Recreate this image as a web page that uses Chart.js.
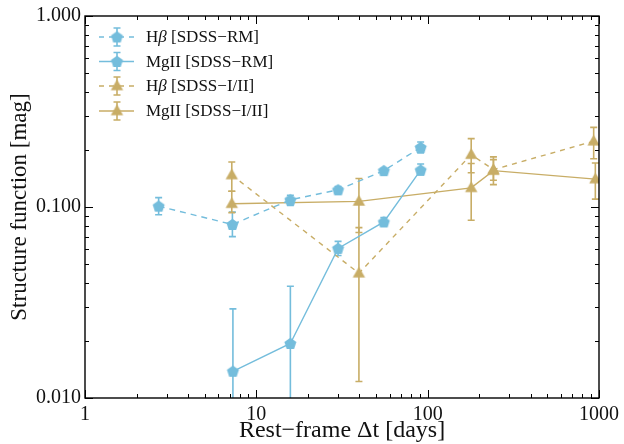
<!DOCTYPE html>
<html>
<head>
<meta charset="utf-8">
<script src="https://cdn.jsdelivr.net/npm/chart.js@4"></script>
<style>
  html, body { margin: 0; padding: 0; background: #fff; }
</style>
</head>
<body>
<canvas id="sfChart" width="624" height="444"></canvas>
<script>
// lag (rest-frame days) and structure function values
var hbRmX = [2.69, 7.25, 15.8, 30.0, 55.5, 91];
var hbRmY = [0.101, 0.081, 0.109, 0.123, 0.155, 0.205];
var hbRmLo = [0.091, 0.070, 0.102, 0.118, 0.151, 0.192];
var hbRmHi = [0.112, 0.094, 0.115, 0.128, 0.159, 0.219];

var mgRmX = [7.3, 15.8, 30.0, 55.5, 91];
var mgRmY = [0.0138, 0.0193, 0.0607, 0.0835, 0.156];
var mgRmLo = [0.004, 0.004, 0.0557, 0.080, 0.147];
var mgRmHi = [0.0293, 0.0385, 0.0661, 0.088, 0.168];

var hbOldX = [7.19, 39.7, 179.5, 242, 931];
var hbOldY = [0.147, 0.045, 0.188, 0.157, 0.221];
var hbOldLo = [0.121, 0.0122, 0.151, 0.131, 0.179];
var hbOldHi = [0.172, 0.078, 0.228, 0.183, 0.261];

var mgOldX = [7.19, 39.7, 179.5, 242, 952];
var mgOldY = [0.104, 0.107, 0.126, 0.155, 0.140];
var mgOldLo = [0.0934, 0.0735, 0.0853, 0.138, 0.110];
var mgOldHi = [0.121, 0.141, 0.169, 0.177, 0.170];

var xTicks = [1, 10, 100, 1000];
var yTicks = [0.01, 0.1, 1];

var blue = '#74bddc';
var tan = '#c8ad66';
var serif = '"Liberation Serif", "DejaVu Serif", serif';

function pts(xs, ys) {
  return xs.map(function (x, i) { return { x: x, y: ys[i] }; });
}

function pentagon(color, r) {
  var c = document.createElement('canvas');
  c.width = c.height = Math.ceil(r * 2 + 2);
  var g = c.getContext('2d');
  var cx = c.width / 2, cy = c.height / 2 + 0.5;
  g.beginPath();
  for (var i = 0; i < 5; i++) {
    var a = -Math.PI / 2 + i * 2 * Math.PI / 5;
    var px = cx + r * Math.cos(a), py = cy + r * Math.sin(a);
    if (i === 0) g.moveTo(px, py); else g.lineTo(px, py);
  }
  g.closePath();
  g.fillStyle = color;
  g.fill();
  return c;
}

function triangle(color, r) {
  var c = document.createElement('canvas');
  c.width = c.height = Math.ceil(r * 2 + 2);
  var g = c.getContext('2d');
  var cx = c.width / 2, cy = c.height / 2;
  g.beginPath();
  g.moveTo(cx, cy - r);
  g.lineTo(cx + r * 0.95, cy + r * 0.65);
  g.lineTo(cx - r * 0.95, cy + r * 0.65);
  g.closePath();
  g.fillStyle = color;
  g.fill();
  return c;
}

var pentBlue = pentagon(blue, 6.3);
var triTan = triangle(tan, 6.5);

var datasets = [
  { label: 'H|β| [SDSS\u2212RM]', data: pts(hbRmX, hbRmY), lo: hbRmLo, hi: hbRmHi,
    borderColor: blue, backgroundColor: blue, borderDash: [6, 5], pointStyle: pentBlue },
  { label: 'MgII [SDSS\u2212RM]', data: pts(mgRmX, mgRmY), lo: mgRmLo, hi: mgRmHi,
    borderColor: blue, backgroundColor: blue, borderDash: [], pointStyle: pentBlue },
  { label: 'H|β| [SDSS\u2212I/II]', data: pts(hbOldX, hbOldY), lo: hbOldLo, hi: hbOldHi,
    borderColor: tan, backgroundColor: tan, borderDash: [5, 5], pointStyle: triTan },
  { label: 'MgII [SDSS\u2212I/II]', data: pts(mgOldX, mgOldY), lo: mgOldLo, hi: mgOldHi,
    borderColor: tan, backgroundColor: tan, borderDash: [], pointStyle: triTan }
];
datasets.forEach(function (d) {
  d.borderWidth = 1.4;
  d.pointRadius = 6;
  d.pointHoverRadius = 6;
  d.fill = false;
  d.tension = 0;
});

// vertical error bars with caps, drawn under the lines and markers
var errorBars = {
  id: 'errorBars',
  beforeDatasetsDraw: function (chart) {
    var ctx = chart.ctx, a = chart.chartArea;
    var xs = chart.scales.x, ys = chart.scales.y;
    ctx.save();
    ctx.beginPath();
    ctx.rect(a.left, a.top, a.right - a.left, a.bottom - a.top);
    ctx.clip();
    chart.data.datasets.forEach(function (d) {
      ctx.strokeStyle = d.borderColor;
      ctx.lineWidth = 1.6;
      d.data.forEach(function (p, i) {
        var px = xs.getPixelForValue(p.x);
        var top = ys.getPixelForValue(d.hi[i]);
        var bot = ys.getPixelForValue(d.lo[i]);
        ctx.beginPath();
        ctx.moveTo(px, top); ctx.lineTo(px, bot);
        ctx.moveTo(px - 3.5, top); ctx.lineTo(px + 3.5, top);
        ctx.moveTo(px - 3.5, bot); ctx.lineTo(px + 3.5, bot);
        ctx.stroke();
      });
    });
    ctx.restore();
  }
};

// frame with inward major and minor ticks on all four sides
var frameTicks = {
  id: 'frameTicks',
  afterDraw: function (chart) {
    var ctx = chart.ctx, a = chart.chartArea;
    var xs = chart.scales.x, ys = chart.scales.y;
    ctx.save();
    ctx.strokeStyle = '#000';
    ctx.lineWidth = 1.4;
    ctx.strokeRect(a.left, a.top, a.right - a.left, a.bottom - a.top);
    ctx.lineWidth = 1;
    ctx.beginPath();
    for (var d = xs.min; d <= xs.max; d *= 10) {
      for (var k = 1; k <= 9; k++) {
        var v = d * k;
        if (v > xs.max * 1.0001) break;
        var px = Math.round(xs.getPixelForValue(v)) + 0.5;
        var len = k === 1 ? 8 : 4;
        ctx.moveTo(px, a.bottom); ctx.lineTo(px, a.bottom - len);
        ctx.moveTo(px, a.top); ctx.lineTo(px, a.top + len);
      }
    }
    for (var e = ys.min; e <= ys.max * 1.0001; e *= 10) {
      for (var j = 1; j <= 9; j++) {
        var w = e * j;
        if (w > ys.max * 1.0001) break;
        var py = Math.round(ys.getPixelForValue(w)) + 0.5;
        var l2 = j === 1 ? 8 : 4;
        ctx.moveTo(a.left, py); ctx.lineTo(a.left + l2, py);
        ctx.moveTo(a.right, py); ctx.lineTo(a.right - l2, py);
      }
    }
    ctx.stroke();
    ctx.restore();
  }
};

// legend: sample line, marker, error bar and label with italic beta
var sampleLegend = {
  id: 'sampleLegend',
  afterDraw: function (chart) {
    var ctx = chart.ctx;
    var rows = [37, 61.5, 86, 111];
    ctx.save();
    chart.data.datasets.forEach(function (d, i) {
      var y = rows[i], x0 = 99, x1 = 134, xm = 117;
      ctx.strokeStyle = d.borderColor;
      ctx.lineWidth = 1.4;
      ctx.setLineDash(d.borderDash.length ? [5, 5] : []);
      ctx.beginPath();
      ctx.moveTo(x0, y); ctx.lineTo(x1, y);
      ctx.stroke();
      ctx.setLineDash([]);
      ctx.lineWidth = 1.6;
      ctx.beginPath();
      ctx.moveTo(xm, y - 9); ctx.lineTo(xm, y + 9);
      ctx.moveTo(xm - 3.5, y - 9); ctx.lineTo(xm + 3.5, y - 9);
      ctx.moveTo(xm - 3.5, y + 9); ctx.lineTo(xm + 3.5, y + 9);
      ctx.stroke();
      var img = d.pointStyle;
      ctx.drawImage(img, xm - img.width / 2, y - img.height / 2);
      ctx.fillStyle = '#111';
      ctx.textBaseline = 'middle';
      var parts = d.label.split('|');
      var tx = 146;
      parts.forEach(function (s, k) {
        ctx.font = (k === 1 ? 'italic ' : '') + '17px ' + serif;
        ctx.fillText(s, tx, y + 1);
        tx += ctx.measureText(s).width;
      });
    });
    ctx.restore();
  }
};

var ctx = document.getElementById('sfChart').getContext('2d');

var sfChart = new Chart(ctx, {
  type: 'line',
  data: { datasets: datasets },
  plugins: [errorBars, frameTicks, sampleLegend],
  options: {
    responsive: false,
    animation: false,
    devicePixelRatio: 1,
    layout: { padding: { top: 14, right: 23, left: 0, bottom: 0 } },
    plugins: { legend: { display: false }, tooltip: { enabled: false } },
    scales: {
      x: {
        type: 'logarithmic',
        min: 1,
        max: 1000,
        grid: { display: false, drawTicks: false },
        border: { display: false },
        afterBuildTicks: function (s) { s.ticks = xTicks.map(function (v) { return { value: v }; }); },
        afterFit: function (s) { s.height = 46; },
        ticks: {
          autoSkip: false, maxRotation: 0, padding: 5, color: '#111',
          font: { family: serif, size: 20 },
          callback: function (v) { return String(v); }
        },
        title: {
          display: true, text: 'Rest\u2212frame \u0394t [days]', color: '#111',
          font: { family: serif, size: 24 }, padding: { top: 0, bottom: -1 }
        }
      },
      y: {
        type: 'logarithmic',
        min: 0.01,
        max: 1,
        grid: { display: false, drawTicks: false },
        border: { display: false },
        afterBuildTicks: function (s) { s.ticks = yTicks.map(function (v) { return { value: v }; }); },
        afterFit: function (s) { s.width = 85; },
        ticks: {
          autoSkip: false, padding: 4, color: '#111',
          font: { family: serif, size: 20 },
          callback: function (v) { return Number(v).toFixed(3); }
        },
        title: {
          display: true, text: 'Structure function [mag]', color: '#111',
          font: { family: serif, size: 23 }, padding: { top: 6, bottom: 0 }
        }
      }
    }
  }
});
</script>
</body>
</html>
